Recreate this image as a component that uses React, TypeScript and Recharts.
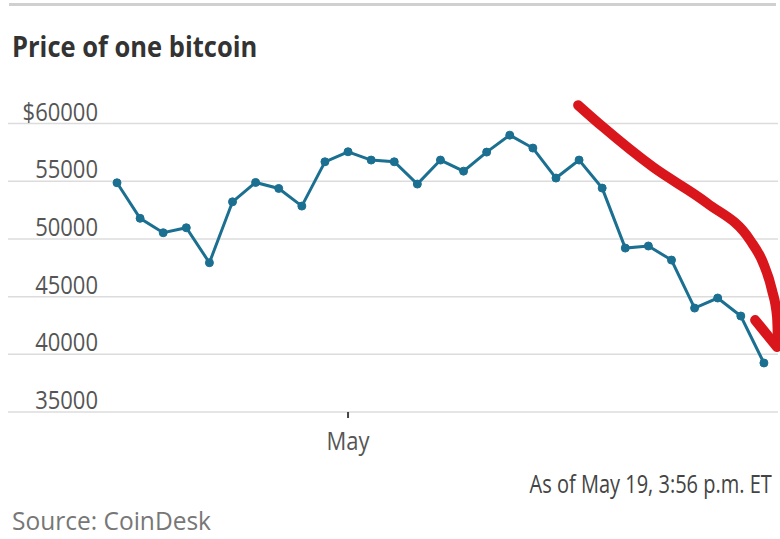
import React from "react";
import { LineChart, Line, XAxis, YAxis, CartesianGrid } from "recharts";

// Apr 21 .. May 19 daily closes
const dates = [
  "Apr 21", "Apr 22", "Apr 23", "Apr 24", "Apr 25", "Apr 26", "Apr 27", "Apr 28", "Apr 29", "Apr 30",
  "May 1", "May 2", "May 3", "May 4", "May 5", "May 6", "May 7", "May 8", "May 9", "May 10",
  "May 11", "May 12", "May 13", "May 14", "May 15", "May 16", "May 17", "May 18", "May 19",
];
const prices = [
  54870, 51790, 50540, 50970, 47940, 53220, 54900, 54380, 52850, 56690,
  57560, 56840, 56690, 54760, 56840, 55880, 57530, 59000, 57880, 55280,
  56840, 54410, 49210, 49390, 48170, 44010, 44880, 43320, 39250,
];
const yTicks = [35000, 40000, 45000, 50000, 55000, 60000];
const xTicks = [10]; // May 1

// hand-drawn red arrow, in (day index, price) terms
const arrowBodyX = [19.96, 21.04, 23.2, 25.54, 27.4, 27.97, 28.35, 28.57, 28.61];
const arrowBodyY = [61600, 59700, 56230, 53110, 49900, 47910, 45570, 43230, 40810];
const arrowHeadX = [27.62, 28.57];
const arrowHeadY = [42970, 40630];

const data = prices.map((price, i) => ({ i, date: dates[i], price }));
const arrowBody = arrowBodyX.map((i, k) => ({ i, price: arrowBodyY[k] }));
const arrowHead = arrowHeadX.map((i, k) => ({ i, price: arrowHeadY[k] }));

const FONT = "'Open Sans', sans-serif";
const BLUE = "#1b6f91";
const RED = "#d9161c";

const YTick = ({ y, payload }: any) => (
  <text
    transform={`translate(98 ${y - 3}) scale(0.88 1)`}
    textAnchor="end"
    fill="#555"
    fontSize={25}
    fontFamily={FONT}
  >
    {payload.value === 60000 ? "$" + payload.value : payload.value}
  </text>
);

const XTick = ({ x, y, payload }: any) => (
  <text
    transform={`translate(${x} ${y + 30}) scale(0.88 1)`}
    textAnchor="middle"
    fill="#555"
    fontSize={25}
    fontFamily={FONT}
  >
    {dates[payload.value].split(" ")[0]}
  </text>
);

export default function App() {
  return (
    <div style={{ position: "absolute", left: 0, top: 0, width: 780, height: 539, background: "#fff", overflow: "hidden" }}>
      <div style={{ position: "absolute", left: 9, top: 3, width: 767, height: 3, background: "#d0d0d0" }} />
      <div
        style={{
          position: "absolute", left: 12, top: 28, fontFamily: FONT, fontWeight: 700, fontSize: 29,
          lineHeight: "36px", color: "#333", transform: "scaleX(0.88)", transformOrigin: "left center",
          whiteSpace: "nowrap",
        }}
      >
        Price of one bitcoin
      </div>
      <div style={{ position: "absolute", left: 0, top: 0 }}>
        <LineChart width={780} height={470} data={data} margin={{ top: 89, right: 2, left: -82, bottom: 18 }}>
          <CartesianGrid horizontal vertical={false} horizontalValues={yTicks} stroke="#dcdcdc" strokeWidth={1.5} />
          <XAxis
            dataKey="i"
            type="number"
            domain={[0, "dataMax"]}
            ticks={xTicks}
            tick={<XTick />}
            axisLine={false}
            tickLine={{ stroke: "#444", strokeWidth: 2 }}
            tickSize={6}
            height={40}
            padding={{ left: 109, right: 0 }}
          />
          <YAxis
            domain={[35000, 63000]}
            ticks={yTicks}
            interval={0}
            tick={<YTick />}
            axisLine={false}
            tickLine={false}
            width={90}
          />
          <Line
            dataKey="price"
            type="linear"
            stroke={BLUE}
            strokeWidth={3}
            dot={{ r: 4, fill: BLUE, stroke: BLUE, strokeWidth: 1 }}
            isAnimationActive={false}
          />
          <Line
            data={arrowBody}
            dataKey="price"
            type="monotone"
            stroke={RED}
            strokeWidth={10}
            strokeLinecap="round"
            dot={false}
            activeDot={false}
            isAnimationActive={false}
          />
          <Line
            data={arrowHead}
            dataKey="price"
            type="linear"
            stroke={RED}
            strokeWidth={10}
            strokeLinecap="round"
            dot={false}
            activeDot={false}
            isAnimationActive={false}
          />
        </LineChart>
      </div>
      <div
        style={{
          position: "absolute", right: 8, top: 469, fontFamily: FONT, fontSize: 25, lineHeight: "28px",
          color: "#444", transform: "scaleX(0.8)", transformOrigin: "right center", whiteSpace: "nowrap",
        }}
      >
        As of May 19, 3:56 p.m. ET
      </div>
      <div
        style={{
          position: "absolute", left: 12, top: 506, fontFamily: FONT, fontSize: 25, lineHeight: "28px",
          color: "#777", transform: "scaleX(0.98)", transformOrigin: "left center", whiteSpace: "nowrap",
        }}
      >
        Source: CoinDesk
      </div>
    </div>
  );
}
